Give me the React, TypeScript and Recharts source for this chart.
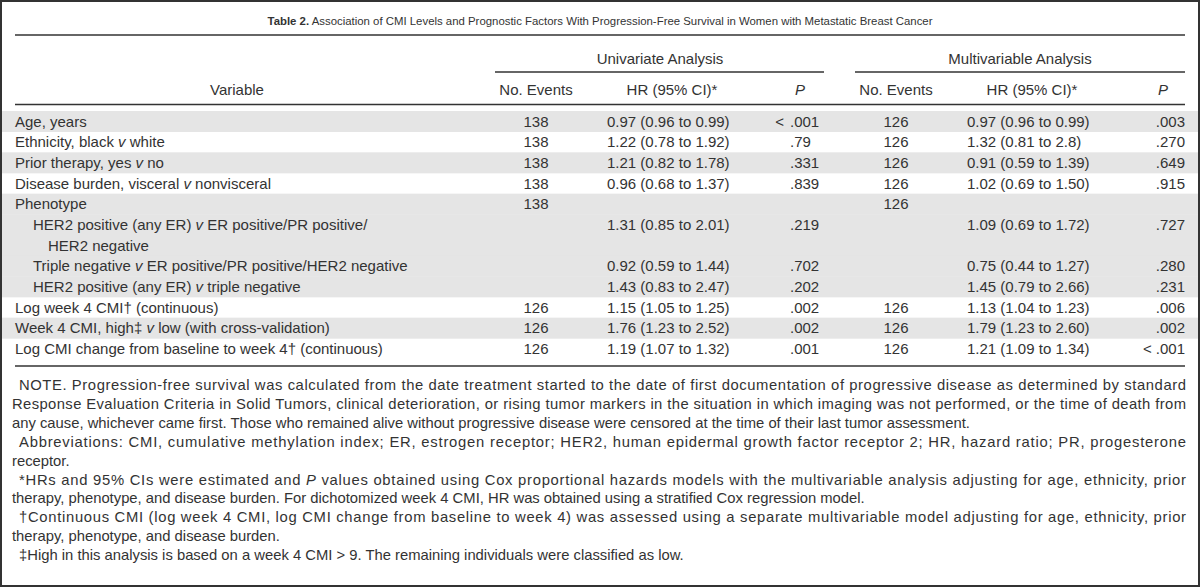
import React from 'react';
import { ComposedChart, Bar, XAxis, YAxis, Customized } from 'recharts';

// ---------- data ----------
const variables = [
  'Age, years',
  'Ethnicity, black v white',
  'Prior therapy, yes v no',
  'Disease burden, visceral v nonvisceral',
  'Phenotype',
  'HER2 positive (any ER) v ER positive/PR positive/',
  'HER2 negative',
  'Triple negative v ER positive/PR positive/HER2 negative',
  'HER2 positive (any ER) v triple negative',
  'Log week 4 CMI\u2020 (continuous)',
  'Week 4 CMI, high\u2021 v low (with cross-validation)',
  'Log CMI change from baseline to week 4\u2020 (continuous)',
];
const indentLevel = [0, 0, 0, 0, 0, 1, 2, 1, 1, 0, 0, 0];
const uniEvents = ['138', '138', '138', '138', '138', '', '', '', '', '126', '126', '126'];
const uniHR = [
  '0.97 (0.96 to 0.99)', '1.22 (0.78 to 1.92)', '1.21 (0.82 to 1.78)', '0.96 (0.68 to 1.37)', '',
  '1.31 (0.85 to 2.01)', '', '0.92 (0.59 to 1.44)', '1.43 (0.83 to 2.47)',
  '1.15 (1.05 to 1.25)', '1.76 (1.23 to 2.52)', '1.19 (1.07 to 1.32)',
];
const uniP = ['< .001', '.79', '.331', '.839', '', '.219', '', '.702', '.202', '.002', '.002', '.001'];
const multiEvents = ['126', '126', '126', '126', '126', '', '', '', '', '126', '126', '126'];
const multiHR = [
  '0.97 (0.96 to 0.99)', '1.32 (0.81 to 2.8)', '0.91 (0.59 to 1.39)', '1.02 (0.69 to 1.50)', '',
  '1.09 (0.69 to 1.72)', '', '0.75 (0.44 to 1.27)', '1.45 (0.79 to 2.66)',
  '1.13 (1.04 to 1.23)', '1.79 (1.23 to 2.60)', '1.21 (1.09 to 1.34)',
];
const multiP = ['.003', '.270', '.649', '.915', '', '.727', '', '.280', '.231', '.006', '.002', '< .001'];
const shading = [1, 0, 1, 0, 1, 1, 1, 1, 1, 0, 1, 0];

const titleBold = 'Table 2.';
const titleText = ' Association of CMI Levels and Prognostic Factors With Progression-Free Survival in Women with Metastatic Breast Cancer';
const groupHeaders = ['Univariate Analysis', 'Multivariable Analysis'];
const columnHeaders = ['Variable', 'No. Events', 'HR (95% CI)*', 'P', 'No. Events', 'HR (95% CI)*', 'P'];

// note lines: [text, indented, justified]; |x| marks italic
const noteLines: [string, boolean, boolean][] = [
  ['NOTE. Progression-free survival was calculated from the date treatment started to the date of first documentation of progressive disease as determined by standard', true, true],
  ['Response Evaluation Criteria in Solid Tumors, clinical deterioration, or rising tumor markers in the situation in which imaging was not performed, or the time of death from', false, true],
  ['any cause, whichever came first. Those who remained alive without progressive disease were censored at the time of their last tumor assessment.', false, false],
  ['Abbreviations: CMI, cumulative methylation index; ER, estrogen receptor; HER2, human epidermal growth factor receptor 2; HR, hazard ratio; PR, progesterone', true, true],
  ['receptor.', false, false],
  ['*HRs and 95% CIs were estimated and |P| values obtained using Cox proportional hazards models with the multivariable analysis adjusting for age, ethnicity, prior', true, true],
  ['therapy, phenotype, and disease burden. For dichotomized week 4 CMI, HR was obtained using a stratified Cox regression model.', false, false],
  ['\u2020Continuous CMI (log week 4 CMI, log CMI change from baseline to week 4) was assessed using a separate multivariable model adjusting for age, ethnicity, prior', true, true],
  ['therapy, phenotype, and disease burden.', false, false],
  ['\u2021High in this analysis is based on a week 4 CMI > 9. The remaining individuals were classified as low.', true, false],
];

const rows = variables.map((v, i) => ({ key: String(i), variable: v, shade: shading[i], span: 1 }));

// ---------- style ----------
const FONT = "'Liberation Sans', Arial, Helvetica, sans-serif";
const TEXT = '#333333';
const LINE = '#333333';
const FS = 15;

const COL = {
  label: 15,
  uniEvents: 536,
  uniHR: 607,
  uniHRHead: 672,
  uniP: 790,
  uniPHead: 800,
  multiEvents: 896,
  multiHR: 967,
  multiHRHead: 1032,
  multiPRight: 1185,
  multiPHead: 1163,
};

const withItalicV = (s: string) => {
  const parts = s.split(' v ');
  const out: React.ReactNode[] = [];
  parts.forEach((p, i) => {
    if (i > 0) out.push(<tspan key={'i' + i} fontStyle="italic">{' v '}</tspan>);
    out.push(<tspan key={'t' + i}>{p}</tspan>);
  });
  return out;
};

const RowShape = (props: any) => {
  const { x, y, width, height } = props;
  const i = props.payload ? Number(props.payload.key) : props.index;
  const by = y + height / 2 + 5;
  const lx = COL.label + (indentLevel[i] === 1 ? 18 : indentLevel[i] === 2 ? 33 : 0);
  const up = uniP[i];
  const common = { fontFamily: FONT, fontSize: FS, fill: TEXT } as any;
  return (
    <g>
      {props.payload && props.payload.shade ? (
        <rect x={x} y={y} width={width} height={height} fill="#e5e5e5" />
      ) : null}
      <text x={lx} y={by} {...common}>{withItalicV(variables[i])}</text>
      {uniEvents[i] && <text x={COL.uniEvents} y={by} textAnchor="middle" {...common}>{uniEvents[i]}</text>}
      {uniHR[i] && <text x={COL.uniHR} y={by} {...common}>{uniHR[i]}</text>}
      {up && up.startsWith('<') ? (
        <g>
          <text x={COL.uniP - 6} y={by} textAnchor="end" {...common}>{'<'}</text>
          <text x={COL.uniP} y={by} {...common}>{up.slice(2)}</text>
        </g>
      ) : up ? (
        <text x={COL.uniP} y={by} {...common}>{up}</text>
      ) : null}
      {multiEvents[i] && <text x={COL.multiEvents} y={by} textAnchor="middle" {...common}>{multiEvents[i]}</text>}
      {multiHR[i] && <text x={COL.multiHR} y={by} {...common}>{multiHR[i]}</text>}
      {multiP[i] && <text x={COL.multiPRight} y={by} textAnchor="end" {...common}>{multiP[i]}</text>}
    </g>
  );
};

const Frame = () => {
  const common = { fontFamily: FONT, fill: TEXT } as any;
  const noteTop = 390;
  const noteStep = 18.9;
  return (
    <g>
      <rect x={1} y={1} width={1198} height={585} fill="none" stroke={LINE} strokeWidth={2} />
      {/* title */}
      <text x={600} y={25} textAnchor="middle" fontSize={11.4} {...common}>
        <tspan fontWeight="bold" fontFamily="'Liberation Sans Narrow', 'Liberation Sans', Arial, sans-serif">{titleBold}</tspan>
        <tspan>{titleText}</tspan>
      </text>
      <line x1={15} x2={1185} y1={35} y2={35} stroke={LINE} strokeWidth={1.6} />
      {/* group headers */}
      <text x={660} y={64} textAnchor="middle" fontSize={FS} {...common}>{groupHeaders[0]}</text>
      <text x={1020} y={64} textAnchor="middle" fontSize={FS} {...common}>{groupHeaders[1]}</text>
      <line x1={495} x2={824} y1={72} y2={72} stroke={LINE} strokeWidth={1.3} />
      <line x1={855} x2={1185} y1={72} y2={72} stroke={LINE} strokeWidth={1.3} />
      {/* column headers */}
      <text x={237} y={95} textAnchor="middle" fontSize={FS} {...common}>{columnHeaders[0]}</text>
      <text x={COL.uniEvents} y={95} textAnchor="middle" fontSize={FS} {...common}>{columnHeaders[1]}</text>
      <text x={COL.uniHRHead} y={95} textAnchor="middle" fontSize={FS} {...common}>{columnHeaders[2]}</text>
      <text x={COL.uniPHead} y={95} textAnchor="middle" fontSize={FS} fontStyle="italic" {...common}>{columnHeaders[3]}</text>
      <text x={COL.multiEvents} y={95} textAnchor="middle" fontSize={FS} {...common}>{columnHeaders[4]}</text>
      <text x={COL.multiHRHead} y={95} textAnchor="middle" fontSize={FS} {...common}>{columnHeaders[5]}</text>
      <text x={COL.multiPHead} y={95} textAnchor="middle" fontSize={FS} fontStyle="italic" {...common}>{columnHeaders[6]}</text>
      <line x1={15} x2={1185} y1={104.5} y2={104.5} stroke={LINE} strokeWidth={1.6} />
      {/* bottom rule */}
      <line x1={15} x2={1185} y1={366} y2={366} stroke={LINE} strokeWidth={1.6} />
      {/* notes */}
      {noteLines.map(([t, ind, just], k) => {
        const x = ind ? 19 : 12;
        const parts = t.split('|');
        const extra: any = just ? { textLength: 1186 - x, lengthAdjust: 'spacing' } : {};
        return (
          <text key={k} x={x} y={noteTop + k * noteStep} fontSize={14.8} {...common} {...extra}>
            {parts.map((p, j) => (
              <tspan key={j} fontStyle={j % 2 === 1 ? 'italic' : undefined}>{p}</tspan>
            ))}
          </text>
        );
      })}
    </g>
  );
};

export default function App() {
  return (
    <div style={{ width: 1200, height: 587, background: '#ffffff' }}>
      <style>{'body{margin:0;}'}</style>
      <ComposedChart
        layout="vertical"
        width={1200}
        height={587}
        data={rows}
        margin={{ top: 111, right: 2, bottom: 228, left: 2 }}
        barCategoryGap={0}
      >
        <XAxis type="number" domain={[0, 1]} hide />
        <YAxis type="category" dataKey="key" hide />
        <Bar dataKey="span" isAnimationActive={false} shape={(p: any) => <RowShape {...p} />} />
        <Customized component={<Frame />} />
      </ComposedChart>
    </div>
  );
}
